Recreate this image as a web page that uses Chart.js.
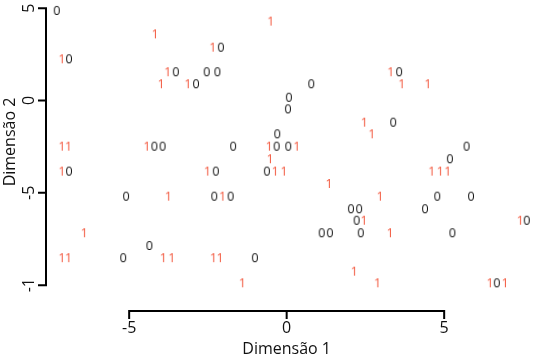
<!DOCTYPE html>
<html>
<head>
<meta charset="utf-8">
<script src="https://cdn.jsdelivr.net/npm/chart.js@4"></script>
<style>
  html, body { margin: 0; padding: 0; background: #fff; overflow: hidden; }
  canvas { display: block; }
</style>
</head>
<body>
<canvas id="plot" width="533" height="364"></canvas>
<script>
// class "0" points (black)
var x0 = [-7.30, -6.91, -3.52, -2.09, -2.54, -2.20, -2.88, 0.78, 0.07, 0.04,
          3.57, 3.38, -0.30, -4.20, -3.94, -1.70, -0.32, 0.05, 5.71, -6.91,
          -2.25, -0.63, 5.18, -5.10, -2.30, -1.78, 4.78, 5.85, 2.04, 2.30,
          4.39, 2.22, 7.62, 1.11, 1.37, 2.35, 5.26, -4.36, -5.19, -1.01, 6.67];
var y0 = [4.85, 2.23, 1.53, 2.86, 1.53, 1.53, 0.88, 0.88, 0.15, -0.48,
          1.53, -1.20, -1.83, -2.50, -2.50, -2.50, -2.50, -2.50, -2.50, -3.85,
          -3.85, -3.85, -3.18, -5.21, -5.21, -5.21, -5.21, -5.21, -5.89, -5.89,
          -5.89, -6.51, -6.51, -7.19, -7.19, -7.19, -7.19, -7.88, -8.54, -8.54, -9.90];

// class "1" points (red)
var x1 = [-4.18, -7.14, -3.78, -3.99, -0.51, -2.35, -3.14, 3.30, 3.65, 4.48,
          2.46, 2.70, -7.14, -6.93, -4.44, -0.56, 0.32, -0.53, -7.14, -2.52,
          -0.37, -0.09, 4.60, 4.87, 5.11, 1.34, -3.76, -2.04, 2.96, 2.45,
          7.41, -6.43, 3.28, -7.14, -6.93, -3.92, -3.65, -2.33, -2.12, 2.14,
          -1.41, 2.88, 6.45, 6.93];
var y1 = [3.58, 2.23, 1.53, 0.88, 4.27, 2.86, 0.88, 1.53, 0.88, 0.88,
          -1.20, -1.83, -2.50, -2.50, -2.50, -2.50, -2.50, -3.18, -3.85, -3.85,
          -3.85, -3.85, -3.85, -3.85, -3.85, -4.52, -5.21, -5.21, -5.21, -6.51,
          -6.51, -7.19, -7.19, -8.54, -8.54, -8.54, -8.54, -8.54, -8.54, -9.27,
          -9.90, -9.90, -9.90, -9.90];

var xTicks = [-5, 0, 5];
var xTickLabels = ["-5", "0", "5"];
var yTicks = [-10, -5, 0, 5];
var yTickLabels = ["-1", "-5", "0", "5"];

var RED = "#f2553a";
var FONT = "'Open Sans', 'Noto Sans', sans-serif";

function toPoints(xs, ys) {
  return xs.map(function (v, i) { return { x: v, y: ys[i] }; });
}

// small canvas with a digit, used as the point style
function glyph(txt, color) {
  var c = document.createElement("canvas");
  c.width = 12;
  c.height = 18;
  var g = c.getContext("2d");
  g.fillStyle = color;
  g.font = "12.5px " + FONT;
  g.textAlign = "center";
  g.textBaseline = "middle";
  g.fillText(txt, 6, 9.5);
  return c;
}

// R style axes: line only across the tick range, rotated y labels
var rAxes = {
  id: "rAxes",
  afterDraw: function (chart) {
    var ctx = chart.ctx;
    var xs = chart.scales.x, ys = chart.scales.y;
    var area = chart.chartArea;
    ctx.save();
    ctx.strokeStyle = "#000";
    ctx.lineWidth = 2;
    ctx.lineCap = "square";
    ctx.fillStyle = "#111";
    ctx.font = "16px " + FONT;

    // x axis
    var xb = area.bottom;
    ctx.beginPath();
    ctx.moveTo(xs.getPixelForValue(xTicks[0]), xb);
    ctx.lineTo(xs.getPixelForValue(xTicks[xTicks.length - 1]), xb);
    xTicks.forEach(function (t) {
      var p = xs.getPixelForValue(t);
      ctx.moveTo(p, xb);
      ctx.lineTo(p, xb + 7);
    });
    ctx.stroke();
    ctx.textAlign = "center";
    ctx.textBaseline = "middle";
    xTicks.forEach(function (t, i) {
      ctx.fillText(xTickLabels[i], xs.getPixelForValue(t), xb + 17);
    });
    ctx.fillText("Dimensão 1", xs.getPixelForValue(0), xb + 38);

    // y axis
    var yl = area.left;
    ctx.beginPath();
    ctx.moveTo(yl, ys.getPixelForValue(yTicks[0]));
    ctx.lineTo(yl, ys.getPixelForValue(yTicks[yTicks.length - 1]));
    yTicks.forEach(function (t) {
      var p = ys.getPixelForValue(t);
      ctx.moveTo(yl, p);
      ctx.lineTo(yl - 7, p);
    });
    ctx.stroke();
    yTicks.forEach(function (t, i) {
      ctx.save();
      ctx.translate(yl - 17, ys.getPixelForValue(t));
      ctx.rotate(-Math.PI / 2);
      ctx.fillText(yTickLabels[i], 0, 0);
      ctx.restore();
    });
    ctx.save();
    ctx.translate(yl - 36, 142);
    ctx.rotate(-Math.PI / 2);
    ctx.fillText("Dimensão 2", 0, 0);
    ctx.restore();
    ctx.restore();
  }
};

new Chart(document.getElementById("plot").getContext("2d"), {
  type: "scatter",
  data: {
    datasets: [
      {
        label: "0",
        data: toPoints(x0, y0),
        pointStyle: glyph("0", "#111"),
        pointRadius: 6
      },
      {
        label: "1",
        data: toPoints(x1, y1),
        pointStyle: glyph("1", RED),
        pointRadius: 6
      }
    ]
  },
  options: {
    responsive: false,
    animation: false,
    layout: { autoPadding: false, padding: { left: 46, right: 0, top: 0, bottom: 53 } },
    scales: {
      x: { type: "linear", min: -7.64, max: 7.82, display: false },
      y: { type: "linear", min: -11.4, max: 5.44, display: false }
    },
    plugins: {
      legend: { display: false },
      tooltip: { enabled: false }
    }
  },
  plugins: [rAxes]
});
</script>
</body>
</html>
